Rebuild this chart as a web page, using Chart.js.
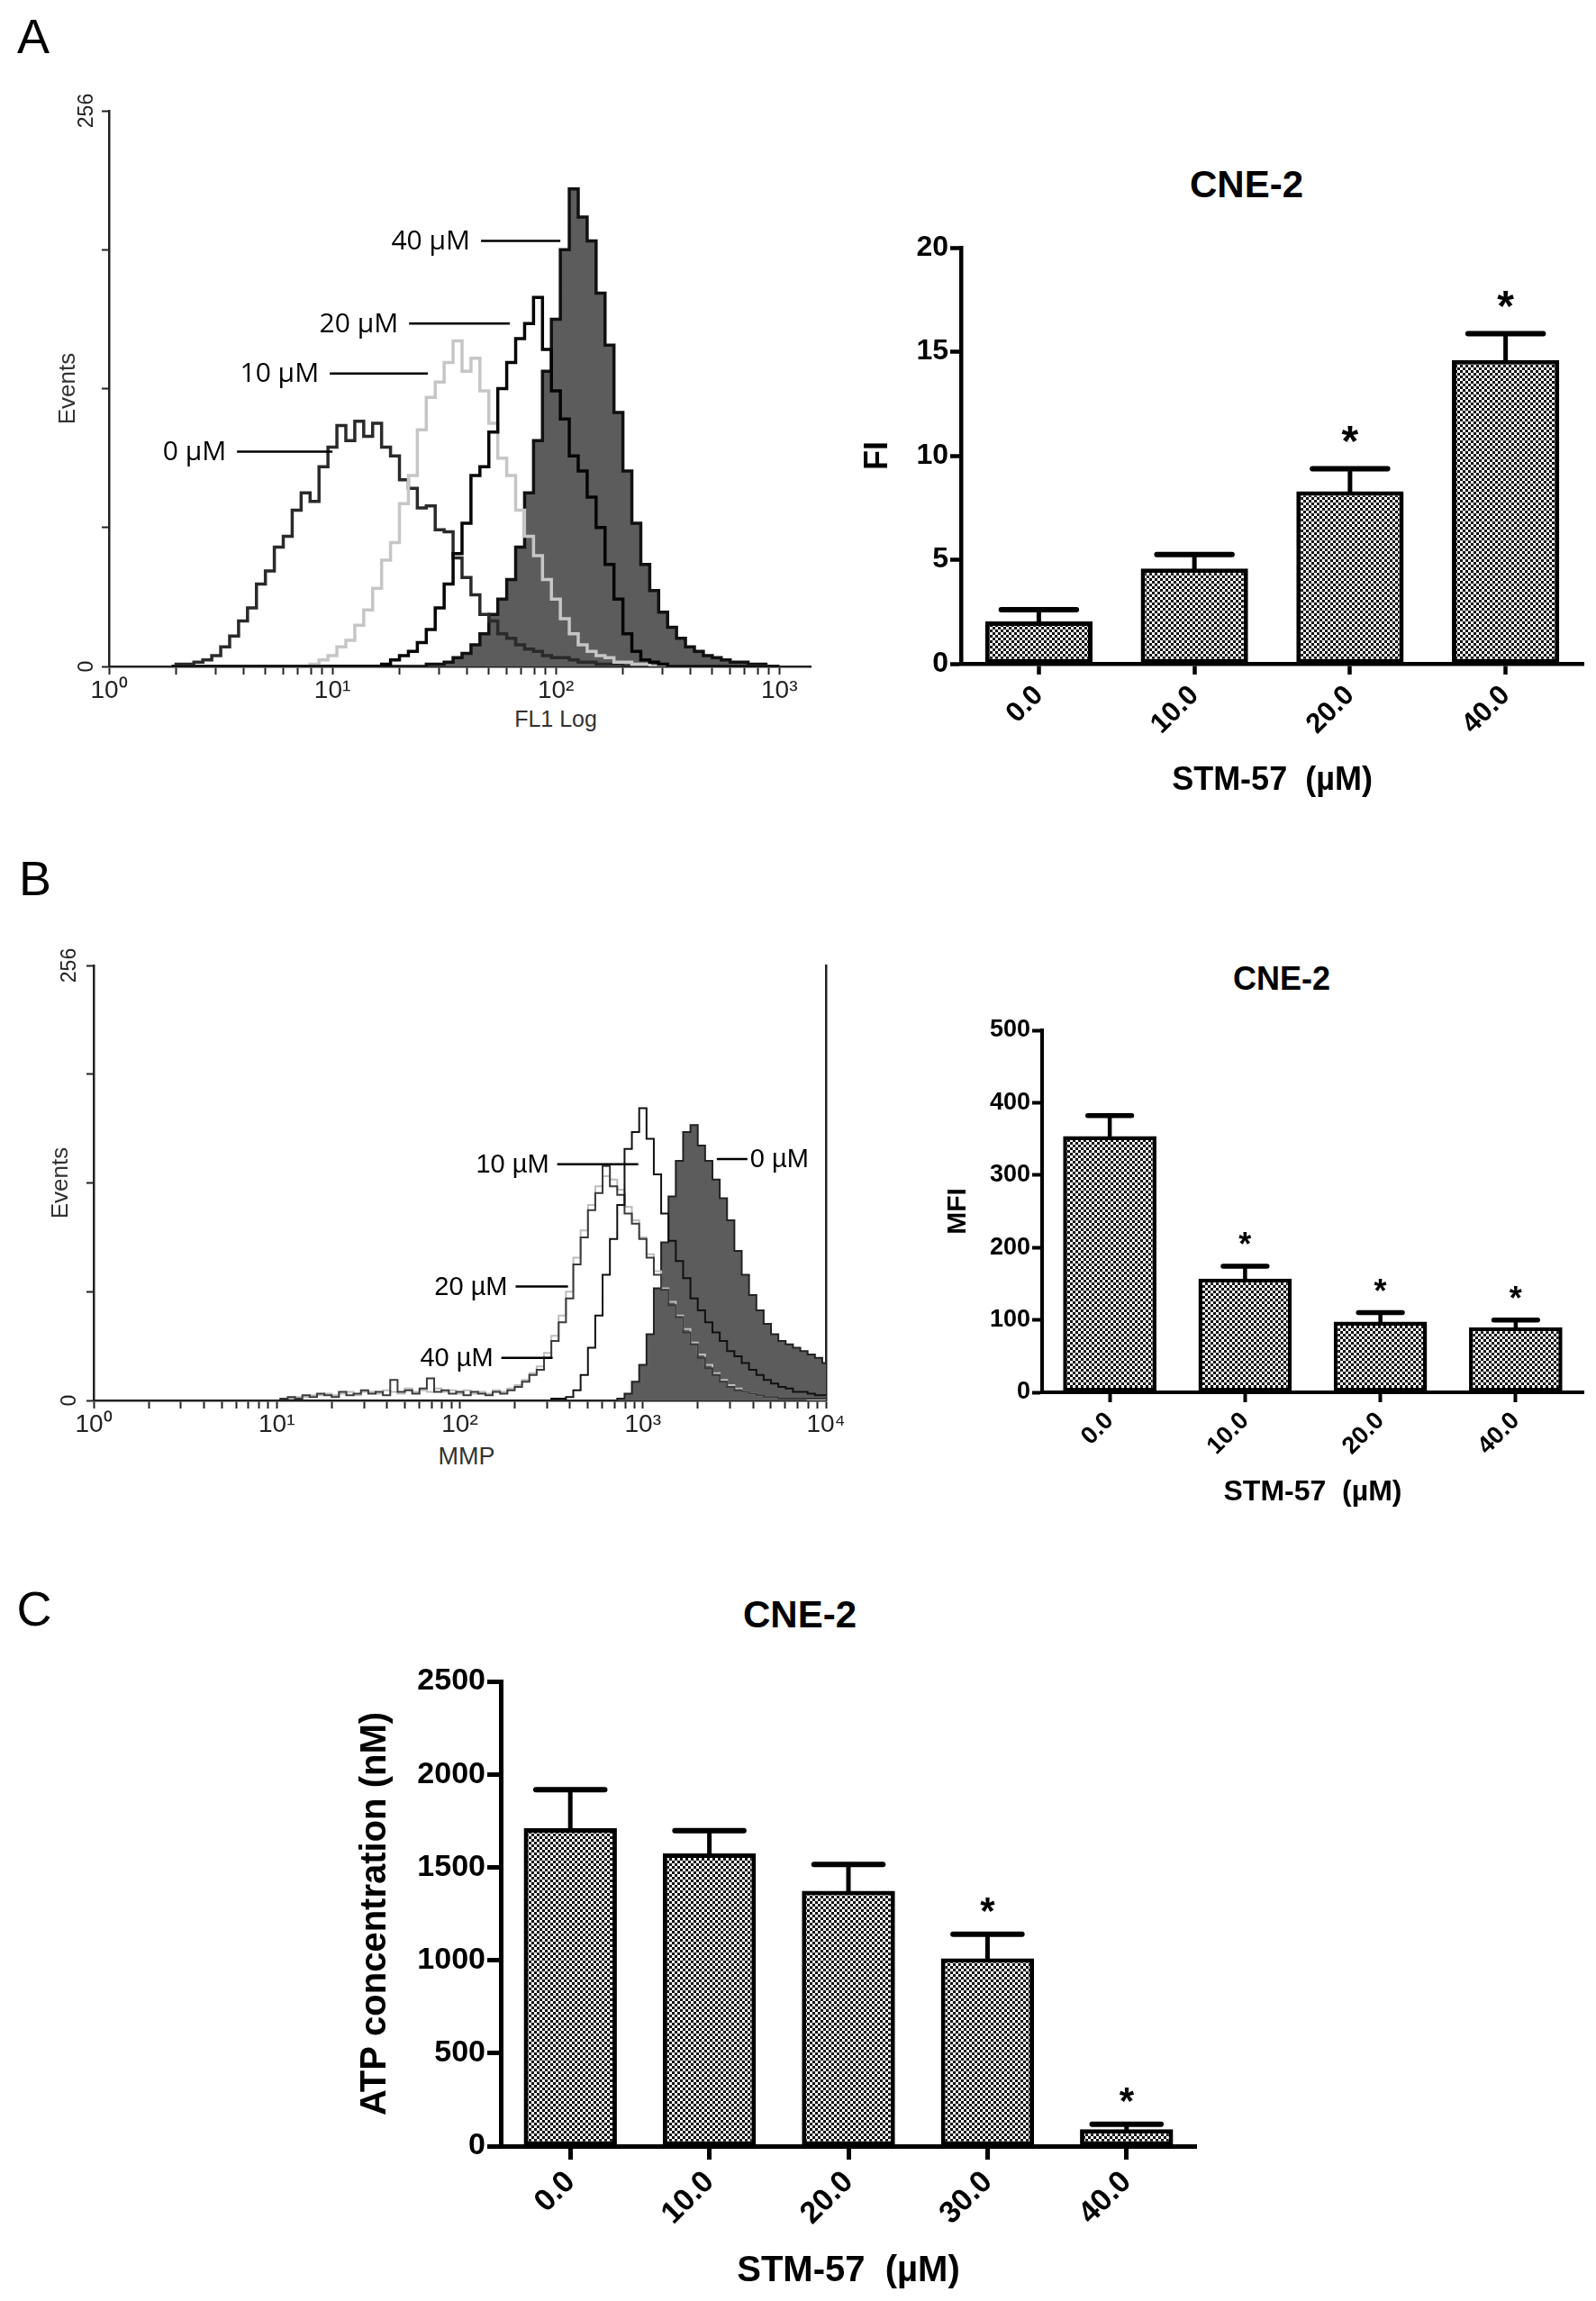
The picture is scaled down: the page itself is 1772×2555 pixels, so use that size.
<!DOCTYPE html>
<html lang="en">
<head>
<meta charset="UTF-8">
<title>STM-57 / CNE-2</title>
<script src="https://cdn.jsdelivr.net/npm/chart.js"></script>
<style>
  body { margin: 0; width: 1772px; height: 2555px; background: #fff; position: relative; overflow: hidden;
         font-family: "Liberation Sans", Arial, sans-serif; }
  .box { position: absolute; }
  .lbl { position: absolute; color: #000; white-space: nowrap; transform: translate(-50%, -50%); line-height: 1; }
  .panel { font-size: 54px; }
  .ttl { font-weight: bold; }
  .axl { color: #333; font-size: 25px; }
</style>
</head>
<body>
<div class="lbl panel" style="left:37px;top:40px">A</div>
<div class="lbl panel" style="left:39px;top:975px">B</div>
<div class="lbl panel" style="left:38px;top:1786px">C</div>

<div class="lbl ttl" style="left:1384px;top:205px;font-size:42px">CNE-2</div>
<div class="lbl ttl" style="left:1423px;top:1087px;font-size:36px">CNE-2</div>
<div class="lbl ttl" style="left:888px;top:1793px;font-size:42px">CNE-2</div>

<div class="lbl axl" style="left:617px;top:798px">FL1 Log</div>
<div class="lbl axl" style="left:518px;top:1617px;font-size:27px">MMP</div>

<div class="box" style="left:0;top:100px;width:920px;height:730px"><canvas id="histA"></canvas></div>
<div class="box" style="left:940px;top:150px;width:832px;height:750px"><canvas id="barA"></canvas></div>
<div class="box" style="left:0;top:1050px;width:940px;height:600px"><canvas id="histB"></canvas></div>
<div class="box" style="left:960px;top:1040px;width:812px;height:650px"><canvas id="barB"></canvas></div>
<div class="box" style="left:380px;top:1760px;width:1000px;height:795px"><canvas id="barC"></canvas></div>

<script>
// ---- panel A histogram (FL1, log10 channel position) ----
const histABins = [0.28,0.32,0.36,0.40,0.44,0.48,0.52,0.56,0.60,0.64,
  0.68,0.72,0.76,0.80,0.84,0.88,0.92,0.96,1.00,1.04,
  1.08,1.12,1.16,1.20,1.24,1.28,1.32,1.36,1.40,1.44,
  1.48,1.52,1.56,1.60,1.64,1.68,1.72,1.76,1.80,1.84,
  1.88,1.92,1.96,2.00,2.04,2.08,2.12,2.16,2.20,2.24,
  2.28,2.32,2.36,2.40,2.44,2.48,2.52,2.56,2.60,2.64,
  2.68,2.72,2.76,2.80,2.84,2.88,2.92,2.96,3.00];
const histA0 = [0,1,1,2,3,5,9,14,21,27,
  38,44,55,60,72,80,76,92,101,111,
  104,113,106,112,101,97,86,82,73,74,
  63,62,50,41,33,24,21,15,13,10,
  8,7,5,4,4,3,2,2,1,1,
  1,0,0,0,0,0,0,0,0,0,
  0,0,0,0,0,0,0,0,0];
const histA10 = [0,0,0,0,0,0,0,0,0,0,
  0,0,0,0,0,0,1,3,5,9,
  12,19,26,36,49,57,75,88,109,124,
  131,140,150,136,142,127,112,96,88,72,
  60,51,40,31,22,15,10,7,5,4,
  2,2,1,1,0,0,0,0,0,0,
  0,0,0,0,0,0,0,0,0];
const histA20 = [0,0,0,0,0,0,0,0,0,0,
  0,0,0,0,0,0,0,0,0,0,
  0,0,0,0,1,3,5,7,11,17,
  27,38,52,66,88,92,108,128,140,151,
  158,170,146,127,114,97,90,78,64,47,
  31,15,7,3,2,1,0,0,0,0,
  0,0,0,0,0,0,0,0,0];
const histA40 = [0,0,0,0,0,0,0,0,0,0,
  0,0,0,0,0,0,0,0,0,0,
  0,0,0,0,0,0,0,0,0,1,
  1,2,4,6,10,15,24,31,40,55,
  80,104,136,160,192,220,207,196,172,148,
  117,90,66,47,35,25,18,13,9,7,
  5,4,3,2,2,1,1,0,0];

// ---- panel B histogram (MMP, log10 channel position) ----
const histBBins = [1.00,1.04,1.08,1.12,1.16,1.20,1.24,1.28,1.32,1.36,
  1.40,1.44,1.48,1.52,1.56,1.60,1.64,1.68,1.72,1.76,
  1.80,1.84,1.88,1.92,1.96,2.00,2.04,2.08,2.12,2.16,
  2.20,2.24,2.28,2.32,2.36,2.40,2.44,2.48,2.52,2.56,
  2.60,2.64,2.68,2.72,2.76,2.80,2.84,2.88,2.92,2.96,
  3.00,3.04,3.08,3.12,3.16,3.20,3.24,3.28,3.32,3.36,
  3.40,3.44,3.48,3.52,3.56,3.60,3.64,3.68,3.72,3.76,
  3.80,3.84,3.88,3.92,3.96,4.00];
const histB0 = [0,0,0,0,0,0,0,0,0,0,
  0,0,0,0,0,0,0,0,0,0,
  0,0,0,0,0,0,0,0,0,0,
  0,0,0,0,0,0,0,0,0,0,
  0,0,0,0,0,0,0,1,4,11,
  21,39,66,93,120,141,158,162,150,141,
  130,119,106,88,74,62,53,45,39,35,
  33,31,29,27,25,22];
const histB10 = [0,0,0,0,0,0,0,0,0,0,
  0,0,0,0,0,0,0,0,0,0,
  0,0,0,0,0,0,0,0,0,0,
  0,0,0,0,0,0,0,0,1,1,
  2,6,15,31,50,74,95,115,148,158,
  172,154,133,110,94,82,72,60,53,46,
  40,35,29,26,22,18,15,12,10,8,
  7,5,5,4,3,3];
const histB20 = [0,1,2,1,3,2,4,3,2,5,
  3,4,6,4,5,3,12,5,6,4,
  7,13,5,6,4,5,3,5,4,3,
  5,4,6,8,11,15,18,25,35,46,
  60,80,96,112,122,138,126,121,110,104,
  95,84,74,65,56,49,40,33,25,19,
  15,11,8,6,5,4,3,2,2,1,
  1,1,1,1,1,1];
const histB40 = [0,1,1,2,2,3,3,4,3,4,
  5,3,5,5,4,6,5,4,7,5,
  6,5,7,5,6,4,6,4,5,4,
  6,5,7,9,12,16,20,28,38,50,
  64,84,100,115,126,132,130,124,114,106,
  96,86,76,66,58,50,42,34,27,21,
  16,12,9,7,5,4,3,2,2,1,
  1,1,1,0,0,0];

// ---- bar charts ----
const dose4 = ['0.0', '10.0', '20.0', '40.0'];
const dose5 = ['0.0', '10.0', '20.0', '30.0', '40.0'];
const fiMean = [2.04, 4.58, 8.29, 14.6];
const fiSem = [0.56, 0.67, 1.08, 1.27];
const fiSig = [false, false, true, true];
const mfiMean = [354, 157, 97.6, 89.8];
const mfiSem = [28, 17, 12.4, 9.9];
const mfiSig = [false, true, true, true];
const atpMean = [1710, 1575, 1373, 1010, 91];
const atpSem = [207, 122, 142, 130, 26];
const atpSig = [false, false, false, true, true];

Chart.defaults.font.family = '"Liberation Sans", Arial, sans-serif';
Chart.defaults.color = '#000';

const SUP = ['\u2070', '\u00b9', '\u00b2', '\u00b3', '\u2074'];

function logTicks(maxExp) {
    const t = [];
    for (let d = 0; d <= Math.floor(maxExp); d++) {
        t.push(d);
        for (let k = 2; k <= 9; k++) {
            const v = d + Math.log10(k);
            if (v <= maxExp) t.push(v);
        }
    }
    return t;
}

function checker(cell) {
    const c = document.createElement('canvas');
    c.width = c.height = cell * 2;
    const g = c.getContext('2d');
    g.fillStyle = '#fff';
    g.fillRect(0, 0, cell * 2, cell * 2);
    g.fillStyle = '#111';
    g.fillRect(0, 0, cell, cell);
    g.fillRect(cell, cell, cell, cell);
    return g.createPattern(c, 'repeat');
}

// rotated 0 / 256 labels and the pointer lines with dose names
function histDeco(o) {
    return {
        id: 'histDeco',
        afterDraw(chart) {
            const ctx = chart.ctx, x = chart.scales.x, y = chart.scales.y;
            ctx.save();
            ctx.fillStyle = '#222';
            ctx.font = '23px "Liberation Sans", Arial';
            ctx.textAlign = 'center';
            ctx.textBaseline = 'middle';
            [0, 256].forEach(v => {
                ctx.save();
                ctx.translate(o.yLabelX, y.getPixelForValue(v));
                ctx.rotate(-Math.PI / 2);
                ctx.fillText(String(v), 0, 0);
                ctx.restore();
            });
            ctx.strokeStyle = '#000';
            ctx.fillStyle = '#000';
            ctx.lineWidth = 2.5;
            ctx.font = o.noteFont;
            o.notes.forEach(n => {
                const x1 = x.getPixelForValue(n.x1), x2 = x.getPixelForValue(n.x2), py = y.getPixelForValue(n.y);
                ctx.beginPath();
                ctx.moveTo(x1, py);
                ctx.lineTo(x2, py);
                ctx.stroke();
                if (n.side === 'right') {
                    ctx.textAlign = 'left';
                    ctx.fillText(n.text, x2 + 3, py + 1);
                } else {
                    ctx.textAlign = 'right';
                    ctx.fillText(n.text, x1 - o.gap, py + 1);
                }
            });
            ctx.restore();
        }
    };
}

function histChart(id, o) {
    const scales = {
        x: {
            type: 'linear', min: 0, max: o.xMax,
            afterBuildTicks: sc => { sc.ticks = logTicks(o.xMax).map(v => ({ value: v })); },
            afterFit: sc => { sc.height = o.xAxisH; },
            grid: { drawOnChartArea: false, drawTicks: true, tickLength: 9, tickWidth: 2, color: '#222' },
            border: { display: true, width: 2.5, color: '#222' },
            ticks: { autoSkip: false, maxRotation: 0, minRotation: 0, padding: 1, color: '#222', font: { size: 28 },
                     callback: v => Number.isInteger(v) ? '10' + SUP[v] : '' }
        },
        y: {
            min: 0, max: 256,
            afterBuildTicks: sc => { sc.ticks = [0, 64, 128, 192, 256].map(v => ({ value: v })); },
            afterFit: sc => { sc.width = o.yAxisW; },
            grid: { drawOnChartArea: false, drawTicks: true, tickLength: 8, tickWidth: 2, color: '#222' },
            border: { display: true, width: 2.5, color: '#222' },
            ticks: { display: false },
            title: { display: true, text: 'Events', color: '#333', font: { size: 26 }, padding: { top: o.evPad, bottom: 0 } }
        }
    };
    if (o.rightEdge) {
        scales.yR = {
            position: 'right', min: 0, max: 256,
            afterFit: sc => { sc.width = 0; },
            grid: { display: false, drawTicks: false },
            ticks: { display: false },
            border: { display: true, width: 2.5, color: '#222' }
        };
    }
    new Chart(document.getElementById(id), {
        type: 'line',
        data: {
            datasets: o.series.map(s => ({
                data: o.bins.map((b, i) => ({ x: b, y: s.counts[i] })),
                borderColor: s.line,
                backgroundColor: s.fill || 'transparent',
                fill: s.fill ? 'origin' : false,
                borderWidth: o.lineWidth,
                pointRadius: 0,
                stepped: 'middle',
                order: s.order
            }))
        },
        options: {
            responsive: true, maintainAspectRatio: false, animation: false,
            layout: { padding: { top: o.padTop, right: o.padRight, left: 0, bottom: 0 } },
            plugins: { legend: { display: false }, tooltip: { enabled: false } },
            scales: scales
        },
        plugins: [histDeco(o)]
    });
}

function errorBars(o) {
    return {
        id: 'errorBars',
        afterDatasetsDraw(chart) {
            const ctx = chart.ctx, y = chart.scales.y;
            const meta = chart.getDatasetMeta(0);
            ctx.save();
            ctx.strokeStyle = '#000';
            ctx.fillStyle = '#000';
            ctx.lineCap = 'round';
            meta.data.forEach((bar, i) => {
                const top = y.getPixelForValue(o.means[i]);
                const end = y.getPixelForValue(o.means[i] + o.sems[i]);
                const half = bar.width * o.capRatio / 2;
                ctx.lineWidth = o.errW;
                ctx.beginPath();
                ctx.moveTo(bar.x, top);
                ctx.lineTo(bar.x, end);
                ctx.stroke();
                ctx.lineWidth = o.errW + 1;
                ctx.beginPath();
                ctx.moveTo(bar.x - half, end);
                ctx.lineTo(bar.x + half, end);
                ctx.stroke();
                if (o.sig[i]) {
                    ctx.font = 'bold ' + o.starSize + 'px "Liberation Sans", Arial';
                    ctx.textAlign = 'center';
                    ctx.textBaseline = 'alphabetic';
                    ctx.fillText('*', bar.x, end - o.starGap + 0.56 * o.starSize);
                }
            });
            ctx.restore();
        }
    };
}

function barChart(id, o) {
    new Chart(document.getElementById(id), {
        type: 'bar',
        data: {
            labels: o.labels,
            datasets: [{
                data: o.means,
                backgroundColor: checker(3),
                borderColor: '#000',
                borderWidth: o.barBorder,
                borderSkipped: false,
                categoryPercentage: 1,
                barPercentage: o.barPct
            }]
        },
        options: {
            responsive: true, maintainAspectRatio: false, animation: false,
            layout: { padding: { top: o.padTop, right: o.padRight, left: 0, bottom: 0 } },
            plugins: { legend: { display: false }, tooltip: { enabled: false } },
            scales: {
                x: {
                    offset: true,
                    afterFit: sc => { sc.height = o.xAxisH; },
                    grid: { offset: false, drawOnChartArea: false, drawTicks: true, tickLength: o.tick, tickWidth: o.axisW, color: '#000' },
                    border: { display: true, width: o.axisW, color: '#000' },
                    ticks: { minRotation: 45, maxRotation: 45, padding: 5, color: '#000', font: { size: o.xTickSize, weight: 'bold' } },
                    title: { display: true, text: 'STM-57  (\u00b5M)', color: '#000', font: { size: o.xTitleSize, weight: 'bold' },
                             padding: { top: 0, bottom: o.xTitlePad } }
                },
                y: {
                    min: 0, max: o.yMax,
                    afterFit: sc => { sc.width = o.yAxisW; },
                    grid: { drawOnChartArea: false, drawTicks: true, tickLength: o.tick, tickWidth: o.axisW, color: '#000' },
                    border: { display: true, width: o.axisW, color: '#000' },
                    ticks: { stepSize: o.step, padding: 2, color: '#000', font: { size: o.yTickSize, weight: 'bold' },
                             callback: v => String(v) },
                    title: { display: true, text: o.yTitle, color: '#000', font: { size: o.yTitleSize, weight: 'bold' },
                             padding: { top: o.yTitlePad, bottom: 0 } }
                }
            }
        },
        plugins: [errorBars(o)]
    });
}

histChart('histA', {
    bins: histABins, xMax: 3.14, padTop: 23, padRight: 20, yAxisW: 121, xAxisH: 90, evPad: 60,
    yLabelX: 97, lineWidth: 3.5, gap: 12, noteFont: '30px "Open Sans", "Liberation Sans", Arial',
    series: [
        { counts: histA20, line: '#050505', order: 1 },
        { counts: histA10, line: '#c6c6c6', order: 2 },
        { counts: histA0, line: '#2a2a2a', order: 3 },
        { counts: histA40, line: '#111', fill: '#5c5c5c', order: 4 }
    ],
    notes: [
        { text: '40 \u00b5M', x1: 1.665, x2: 2.02, y: 196 },
        { text: '20 \u00b5M', x1: 1.343, x2: 1.794, y: 158 },
        { text: '10 \u00b5M', x1: 0.988, x2: 1.427, y: 135 },
        { text: '0 \u00b5M', x1: 0.573, x2: 1.0, y: 99 }
    ]
});

histChart('histB', {
    bins: histBBins, xMax: 4, padTop: 22, padRight: 23, yAxisW: 104, xAxisH: 95, evPad: 52,
    yLabelX: 78, lineWidth: 2, gap: 9, noteFont: '29px "Liberation Sans", Arial', rightEdge: true,
    series: [
        { counts: histB10, line: '#111', order: 1 },
        { counts: histB20, line: '#3a3a3a', order: 2 },
        { counts: histB40, line: '#bdbdbd', order: 3 },
        { counts: histB0, line: '#222', fill: '#5c5c5c', order: 4 }
    ],
    notes: [
        { text: '10 \u00b5M', x1: 2.532, x2: 2.975, y: 139 },
        { text: '0 \u00b5M', x1: 3.404, x2: 3.571, y: 142, side: 'right' },
        { text: '20 \u00b5M', x1: 2.305, x2: 2.591, y: 67 },
        { text: '40 \u00b5M', x1: 2.227, x2: 2.507, y: 25 }
    ]
});

barChart('barA', {
    labels: dose4, means: fiMean, sems: fiSem, sig: fiSig, yMax: 20, step: 5, yTitle: 'FI',
    padTop: 125, padRight: 14, yAxisW: 127, xAxisH: 163,
    axisW: 4.5, tick: 12, barBorder: 5, barPct: 0.69, capRatio: 0.7, errW: 5,
    yTickSize: 32, xTickSize: 31, xTitleSize: 36, yTitleSize: 36, xTitlePad: 11, yTitlePad: 13,
    starSize: 48, starGap: 41
});

barChart('barB', {
    labels: dose4, means: mfiMean, sems: mfiSem, sig: mfiSig, yMax: 500, step: 100, yTitle: 'MFI',
    padTop: 104, padRight: 14, yAxisW: 197, xAxisH: 144,
    axisW: 4, tick: 11, barBorder: 4.5, barPct: 0.69, capRatio: 0.47, errW: 4.5,
    yTickSize: 27, xTickSize: 27, xTitleSize: 32, yTitleSize: 30, xTitlePad: 14, yTitlePad: 86,
    starSize: 36, starGap: 32
});

barChart('barC', {
    labels: dose5, means: atpMean, sems: atpSem, sig: atpSig, yMax: 2500, step: 500, yTitle: 'ATP concentration (nM)',
    padTop: 107, padRight: 52, yAxisW: 176, xAxisH: 172,
    axisW: 5, tick: 15, barBorder: 5, barPct: 0.67, capRatio: 0.74, errW: 5,
    yTickSize: 34, xTickSize: 34, xTitleSize: 40, yTitleSize: 40, xTitlePad: 9, yTitlePad: 13,
    starSize: 42, starGap: 35
});
</script>
</body>
</html>
